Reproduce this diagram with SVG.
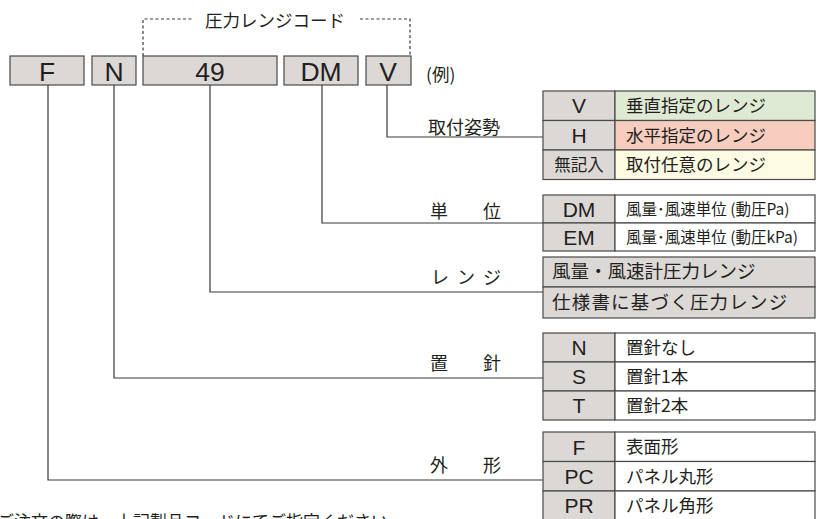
<svg xmlns="http://www.w3.org/2000/svg" width="818" height="519" viewBox="0 0 818 519">
<style>
.bx{fill:#dcd8d5;stroke:#4a4a4a;stroke-width:1.2}
.wh{fill:#ffffff;stroke:#4a4a4a;stroke-width:1.2}
.gr{fill:#dfead5;stroke:#4a4a4a;stroke-width:1.2}
.rd{fill:#f6cdbf;stroke:#4a4a4a;stroke-width:1.2}
.yl{fill:#fdfbe3;stroke:#4a4a4a;stroke-width:1.2}
.big{font-family:"Liberation Sans",Arial,sans-serif;font-size:26.5px;fill:#231f20;text-anchor:middle}
.code{font-family:"Liberation Sans",Arial,sans-serif;font-size:21px;fill:#231f20;text-anchor:middle}
.jp{font-family:"Noto Sans CJK JP","Noto Sans",sans-serif;font-size:17.5px;fill:#231f20}
.jps{font-family:"Noto Sans CJK JP","Noto Sans",sans-serif;font-size:15.5px;fill:#231f20}
.lbl{font-family:"Noto Sans CJK JP","Noto Sans",sans-serif;font-size:18px;fill:#231f20}
.note{font-family:"Noto Sans CJK JP","Noto Sans",sans-serif;font-size:17px;fill:#231f20}
.ln{fill:none;stroke:#3a3a3a;stroke-width:1.2}
.dash{fill:none;stroke:#3a3a3a;stroke-width:1.2;stroke-dasharray:3 2.5}
</style>
<rect width="818" height="519" fill="#ffffff"/>

<g id="bracket">
<path class="dash" d="M143,56 V19 H194"/>
<path class="dash" d="M360,19 H410 V56"/>
<text class="jp" x="275" y="27" text-anchor="middle">圧力レンジコード</text>
</g>

<g id="code-F"><rect class="bx" x="10" y="56" width="74" height="29"/><text class="big" x="47" y="80.5">F</text></g>
<g id="code-N"><rect class="bx" x="92" y="56" width="44" height="29"/><text class="big" x="114" y="80.5">N</text></g>
<g id="code-49"><rect class="bx" x="143" y="56" width="134" height="29"/><text class="big" x="210" y="80.5">49</text></g>
<g id="code-DM"><rect class="bx" x="284" y="56" width="74" height="29"/><text class="big" x="321" y="80.5">DM</text></g>
<g id="code-V"><rect class="bx" x="366" y="56" width="45" height="29"/><text class="big" x="388" y="80.5">V</text></g>
<g id="example"><text class="jp" x="426" y="81">(例)</text></g>

<g id="connectors">
<path class="ln" d="M387,85 V137 H543"/>
<path class="ln" d="M322,85 V223 H543"/>
<path class="ln" d="M210,85 V292 H543"/>
<path class="ln" d="M114,85 V378 H543"/>
<path class="ln" d="M48,85 V480 H543"/>
</g>

<g id="label-mount"><text class="lbl" x="428" y="134">取付姿勢</text></g>
<g id="label-unit"><text class="lbl" x="430" y="218">単</text><text class="lbl" x="483" y="218">位</text></g>
<g id="label-range"><text class="lbl" x="431" y="284">レ</text><text class="lbl" x="457" y="284">ン</text><text class="lbl" x="483" y="284">ジ</text></g>
<g id="label-needle"><text class="lbl" x="430" y="370">置</text><text class="lbl" x="483" y="370">針</text></g>
<g id="label-shape"><text class="lbl" x="430" y="472">外</text><text class="lbl" x="483" y="472">形</text></g>

<g id="table-mount">
<rect class="bx" x="543" y="91" width="72" height="29.5"/><rect class="gr" x="615" y="91" width="200" height="29.5"/>
<rect class="bx" x="543" y="120.5" width="72" height="29.5"/><rect class="rd" x="615" y="120.5" width="200" height="29.5"/>
<rect class="bx" x="543" y="150" width="72" height="29.5"/><rect class="yl" x="615" y="150" width="200" height="29.5"/>
<text class="code" x="579" y="113">V</text><text class="jp" x="626" y="112">垂直指定のレンジ</text>
<text class="code" x="579" y="143">H</text><text class="jp" x="626" y="142">水平指定のレンジ</text>
<text class="jp" x="579" y="171" text-anchor="middle" style="font-size:16.5px">無記入</text><text class="jp" x="626" y="171">取付任意のレンジ</text>
</g>

<g id="table-unit">
<rect class="bx" x="543" y="195" width="72" height="28"/><rect class="wh" x="615" y="195" width="200" height="28"/>
<rect class="bx" x="543" y="223" width="72" height="28"/><rect class="wh" x="615" y="223" width="200" height="28"/>
<text class="code" x="579" y="217">DM</text><text class="jps" x="626" y="215">風量･風速単位 (動圧Pa)</text>
<text class="code" x="579" y="245">EM</text><text class="jps" x="626" y="243">風量･風速単位 (動圧kPa)</text>
</g>

<g id="table-range">
<rect class="bx" x="543" y="257" width="272" height="30"/>
<rect class="bx" x="543" y="287" width="272" height="31"/>
<text class="jp" x="552" y="278" style="font-size:18.5px">風量・風速計圧力レンジ</text>
<text class="jp" x="552" y="309" style="font-size:18.5px;letter-spacing:1.2px">仕様書に基づく圧力レンジ</text>
</g>

<g id="table-needle">
<rect class="bx" x="543" y="333" width="72" height="29"/><rect class="wh" x="615" y="333" width="200" height="29"/>
<rect class="bx" x="543" y="362" width="72" height="29"/><rect class="wh" x="615" y="362" width="200" height="29"/>
<rect class="bx" x="543" y="391" width="72" height="29"/><rect class="wh" x="615" y="391" width="200" height="29"/>
<text class="code" x="579" y="355">N</text><text class="jp" x="626" y="354">置針なし</text>
<text class="code" x="579" y="384">S</text><text class="jp" x="626" y="383">置針1本</text>
<text class="code" x="579" y="413">T</text><text class="jp" x="626" y="412">置針2本</text>
</g>

<g id="table-shape">
<rect class="bx" x="543" y="432" width="72" height="29.5"/><rect class="wh" x="615" y="432" width="200" height="29.5"/>
<rect class="bx" x="543" y="461.5" width="72" height="29.5"/><rect class="wh" x="615" y="461.5" width="200" height="29.5"/>
<rect class="bx" x="543" y="491" width="72" height="40"/><rect class="wh" x="615" y="491" width="200" height="40"/>
<text class="code" x="579" y="455">F</text><text class="jp" x="626" y="453">表面形</text>
<text class="code" x="579" y="484">PC</text><text class="jp" x="626" y="483">パネル丸形</text>
<text class="code" x="579" y="513">PR</text><text class="jp" x="626" y="512">パネル角形</text>
</g>

<g id="note"><text class="note" x="-3" y="528">ご注文の際は、上記製品コードにてご指定ください。</text></g>
</svg>
